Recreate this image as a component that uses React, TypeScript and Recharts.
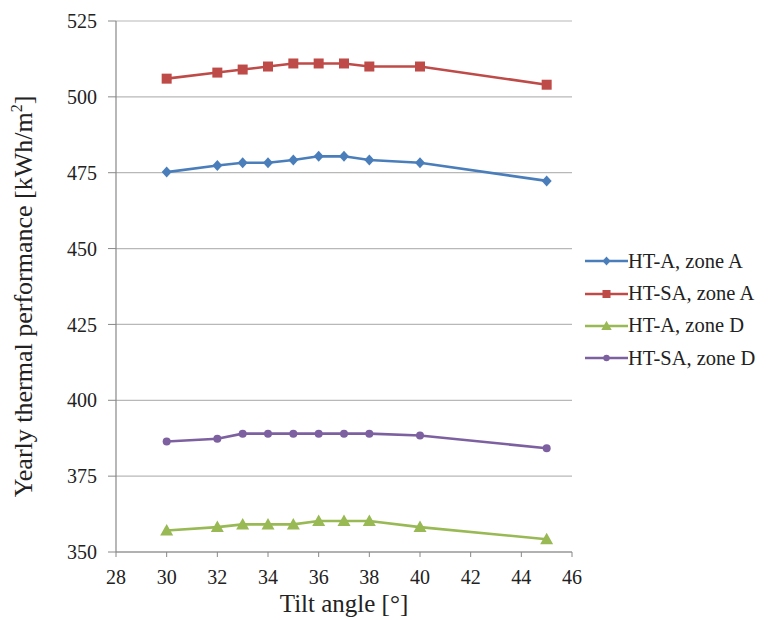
import {
  LineChart,
  Line,
  XAxis,
  YAxis,
  CartesianGrid,
  Label,
} from "recharts";

const tiltAngles = [30, 32, 33, 34, 35, 36, 37, 38, 40, 45];
const htAZoneA = [475.2, 477.4, 478.3, 478.3, 479.2, 480.4, 480.4, 479.2, 478.3, 472.3];
const htSAZoneA = [506, 508, 509, 510, 511, 511, 511, 510, 510, 504];
const htAZoneD = [357.1, 358.2, 359.1, 359.1, 359.1, 360.2, 360.2, 360.2, 358.2, 354.2];
const htSAZoneD = [386.4, 387.3, 389, 389, 389, 389, 389, 389, 388.4, 384.2];
const xTicks = [28, 30, 32, 34, 36, 38, 40, 42, 44, 46];
const yTicks = [350, 375, 400, 425, 450, 475, 500, 525];

const data = tiltAngles.map((t, i) => ({
  tilt: t,
  aA: htAZoneA[i],
  saA: htSAZoneA[i],
  aD: htAZoneD[i],
  saD: htSAZoneD[i],
}));

type Shape = "diamond" | "square" | "triangle" | "circle";

const series: { key: string; name: string; color: string; shape: Shape }[] = [
  { key: "aA", name: "HT-A, zone A", color: "#4a7ebb", shape: "diamond" },
  { key: "saA", name: "HT-SA, zone A", color: "#be4b48", shape: "square" },
  { key: "aD", name: "HT-A, zone D", color: "#98b954", shape: "triangle" },
  { key: "saD", name: "HT-SA, zone D", color: "#7d60a0", shape: "circle" },
];

const FONT = "'Liberation Serif', 'Times New Roman', 'DejaVu Serif', serif";
const tickStyle = { fill: "#222", fontSize: 20, fontFamily: FONT };

function marker(shape: Shape, cx: number, cy: number, color: string, k?: string | number, s = 1) {
  if (shape === "diamond")
    return <polygon key={k} points={`${cx},${cy - 5.5 * s} ${cx + 5 * s},${cy} ${cx},${cy + 5.5 * s} ${cx - 5 * s},${cy}`} fill={color} />;
  if (shape === "square")
    return <rect key={k} x={cx - 5 * s} y={cy - 5 * s} width={10 * s} height={10 * s} fill={color} />;
  if (shape === "triangle")
    return <polygon key={k} points={`${cx},${cy - 6.5 * s} ${cx + 6.5 * s},${cy + 5 * s} ${cx - 6.5 * s},${cy + 5 * s}`} fill={color} />;
  return <circle key={k} cx={cx} cy={cy} r={4 * s} fill={color} />;
}

function LegendBox() {
  return (
    <div
      style={{
        position: "absolute",
        left: 577,
        top: 237,
        width: 184,
        fontFamily: FONT,
        fontSize: 20.5,
        color: "#222",
        whiteSpace: "nowrap",
      }}
    >
      {series.map((s) => (
        <div key={s.key} style={{ display: "flex", alignItems: "center", height: 32.4 }}>
          <svg width={43} height={14}>
            <line x1={0} y1={7} x2={43} y2={7} stroke={s.color} strokeWidth={2.5} />
            {marker(s.shape, 21.5, 7, s.color, undefined, 0.8)}
          </svg>
          <span>{s.name}</span>
        </div>
      ))}
    </div>
  );
}

export default function App() {
  return (
    <div style={{ position: "relative", width: 761, height: 612, background: "#fff", fontFamily: FONT }}>
      <LineChart
        width={761}
        height={612}
        data={data}
        margin={{ top: 13, right: 197, bottom: 28, left: 48 }}
      >
        <CartesianGrid vertical={false} stroke="#b8b8b8" strokeWidth={1.2} />
        <XAxis
          dataKey="tilt"
          type="number"
          domain={[28, 46]}
          ticks={xTicks}
          height={40}
          axisLine={{ stroke: "#888", strokeWidth: 1.2 }}
          tickLine={{ stroke: "#888" }}
          tickSize={5}
          tick={tickStyle}
          tickMargin={13}
        >
          <Label
            value="Tilt angle [°]"
            position="bottom"
            offset={2}
            fill="#222"
            fontSize={25}
            fontFamily={FONT}
          />
        </XAxis>
        <YAxis
          type="number"
          domain={[350, 525]}
          ticks={yTicks}
          width={60}
          axisLine={{ stroke: "#888", strokeWidth: 1.2 }}
          tickLine={{ stroke: "#888" }}
          tickSize={8}
          tick={tickStyle}
          tickMargin={11}
          label={{
            position: "left",
            content: ({ viewBox }: any) => {
              const x = viewBox.x - 30;
              const y = viewBox.y + viewBox.height / 2 + 10;
              return (
                <text
                  x={x}
                  y={y}
                  transform={`rotate(-90 ${x} ${y})`}
                  textAnchor="middle"
                  dominantBaseline="middle"
                  fill="#222"
                  fontSize={26}
                  fontFamily={FONT}
                >
                  Yearly thermal performance [kWh/m
                  <tspan dy={-8} fontSize={16}>2</tspan>
                  <tspan dy={8}>]</tspan>
                </text>
              );
            },
          }}
        />
        {series.map((s) => (
          <Line
            key={s.key}
            dataKey={s.key}
            name={s.name}
            stroke={s.color}
            strokeWidth={2.6}
            isAnimationActive={false}
            activeDot={false}
            dot={(p: any) => marker(s.shape, p.cx, p.cy, s.color, `${s.key}-${p.index}`)}
          />
        ))}
      </LineChart>
      <LegendBox />
    </div>
  );
}
